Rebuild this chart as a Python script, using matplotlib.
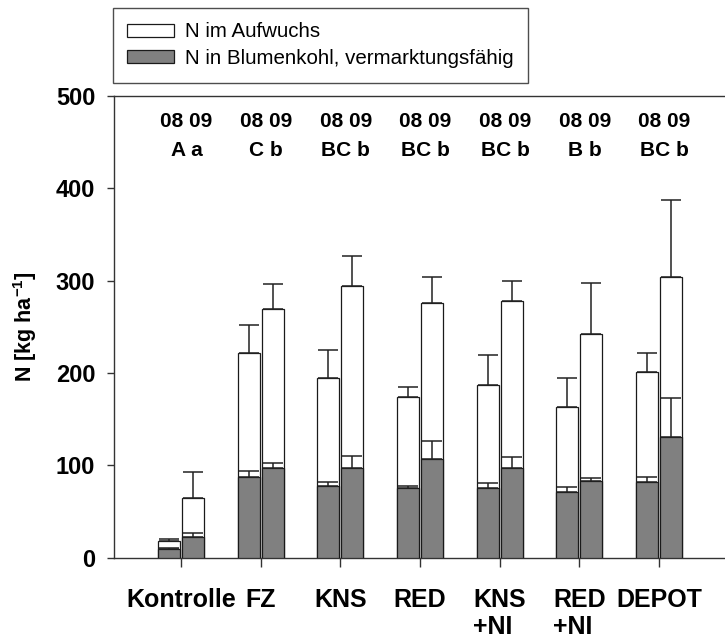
import matplotlib
matplotlib.use("Agg")
import matplotlib.pyplot as plt
from matplotlib.patches import Patch
import numpy as np

plt.rcParams["font.family"] = ["Liberation Sans", "DejaVu Sans"]
plt.rcParams["mathtext.fontset"] = "custom"
plt.rcParams["mathtext.rm"] = "Liberation Sans"
plt.rcParams["mathtext.bf"] = "Liberation Sans:bold"

# treatments and N uptake (kg/ha), 2008 and 2009
treatments = ["Kontrolle", "FZ", "KNS", "RED", "KNS\n+NI", "RED\n+NI", "DEPOT"]
letters = ["A a", "C b", "BC b", "BC b", "BC b", "B b", "BC b"]

aufwuchs_08 = [18, 222, 194, 174, 187, 163, 201]
aufwuchs_08_err = [2.6, 30, 31, 11, 32, 31, 20]
aufwuchs_09 = [65, 269, 294, 276, 278, 242, 304]
aufwuchs_09_err = [28, 27, 33, 28, 22, 55, 83]

kohl_08 = [9, 87, 78, 75, 75, 71, 82]
kohl_08_err = [1.5, 7, 4, 3, 5.5, 6, 5.5]
kohl_09 = [22, 97, 97, 107, 97, 83, 131]
kohl_09_err = [4.5, 6, 12.6, 19.5, 12, 3.6, 41.5]

grey = "#808080"
edge = "#1a1a1a"
width = 0.275
offset = 0.15

fig = plt.figure(figsize=(7.25, 6.41), dpi=100)
ax = fig.add_axes([114.5 / 725, 1 - 557.7 / 641, 610.5 / 725, 462.0 / 641])

x = np.arange(len(treatments))
err_kw = dict(fmt="none", ecolor="#222222", elinewidth=1.1, capsize=7.2,
              capthick=1.1, zorder=4)

for xs, tot, tot_err, sub, sub_err in [
    (x - offset, aufwuchs_08, aufwuchs_08_err, kohl_08, kohl_08_err),
    (x + offset, aufwuchs_09, aufwuchs_09_err, kohl_09, kohl_09_err),
]:
    ax.bar(xs, tot, width=width, color="white", edgecolor=edge, linewidth=0.9, zorder=2)
    ax.bar(xs, sub, width=width, color=grey, edgecolor=edge, linewidth=0.9, zorder=3)
    ax.errorbar(xs, tot, yerr=[np.zeros(len(tot)), tot_err], **err_kw)
    ax.errorbar(xs, sub, yerr=[np.zeros(len(sub)), sub_err], **err_kw)

# year header and significance letters above each treatment
for i, lab in enumerate(letters):
    ax.text(i + 0.07, 466, "08 09", ha="center", va="baseline",
            fontsize=15, fontweight="bold")
    ax.text(i + 0.07, 435, lab, ha="center", va="baseline",
            fontsize=15, fontweight="bold")

ax.set_xlim(-0.835, 6.828)
ax.set_ylim(0, 500)
ax.set_xticks(x)
ax.set_xticklabels(treatments, fontsize=18, fontweight="bold",
                   multialignment="left", linespacing=1.2)
ax.set_yticks([0, 100, 200, 300, 400, 500])
ax.set_yticklabels(["0", "100", "200", "300", "400", "500"],
                   fontsize=17, fontweight="bold")
ax.tick_params(axis="x", direction="out", length=6.5, width=1.0,
               color="#333333", pad=15)
ax.tick_params(axis="y", direction="out", length=4.8, width=1.0,
               color="#333333", pad=9)
ax.set_ylabel(r"N [kg ha$^{\mathbf{-1}}$]", fontsize=15.5, fontweight="bold",
              labelpad=12)

for side in ["left", "bottom", "top"]:
    ax.spines[side].set_linewidth(1.0)
    ax.spines[side].set_color("#333333")
ax.spines["right"].set_visible(False)

handles = [Patch(facecolor="white", edgecolor=edge, linewidth=0.9),
           Patch(facecolor=grey, edgecolor=edge, linewidth=0.9)]
leg = fig.legend(handles, ["N im Aufwuchs", "N in Blumenkohl, vermarktungsfähig"],
                 loc="upper left", bbox_to_anchor=(113 / 725, 1 - 8 / 641),
                 fontsize=14.8, fancybox=False, borderpad=0.7, borderaxespad=0,
                 handlelength=2.26, handleheight=0.6, handletextpad=0.55,
                 labelspacing=0.38)
leg.get_frame().set_edgecolor("#222222")
leg.get_frame().set_linewidth(1.0)

fig.savefig("out.png", dpi=100)
